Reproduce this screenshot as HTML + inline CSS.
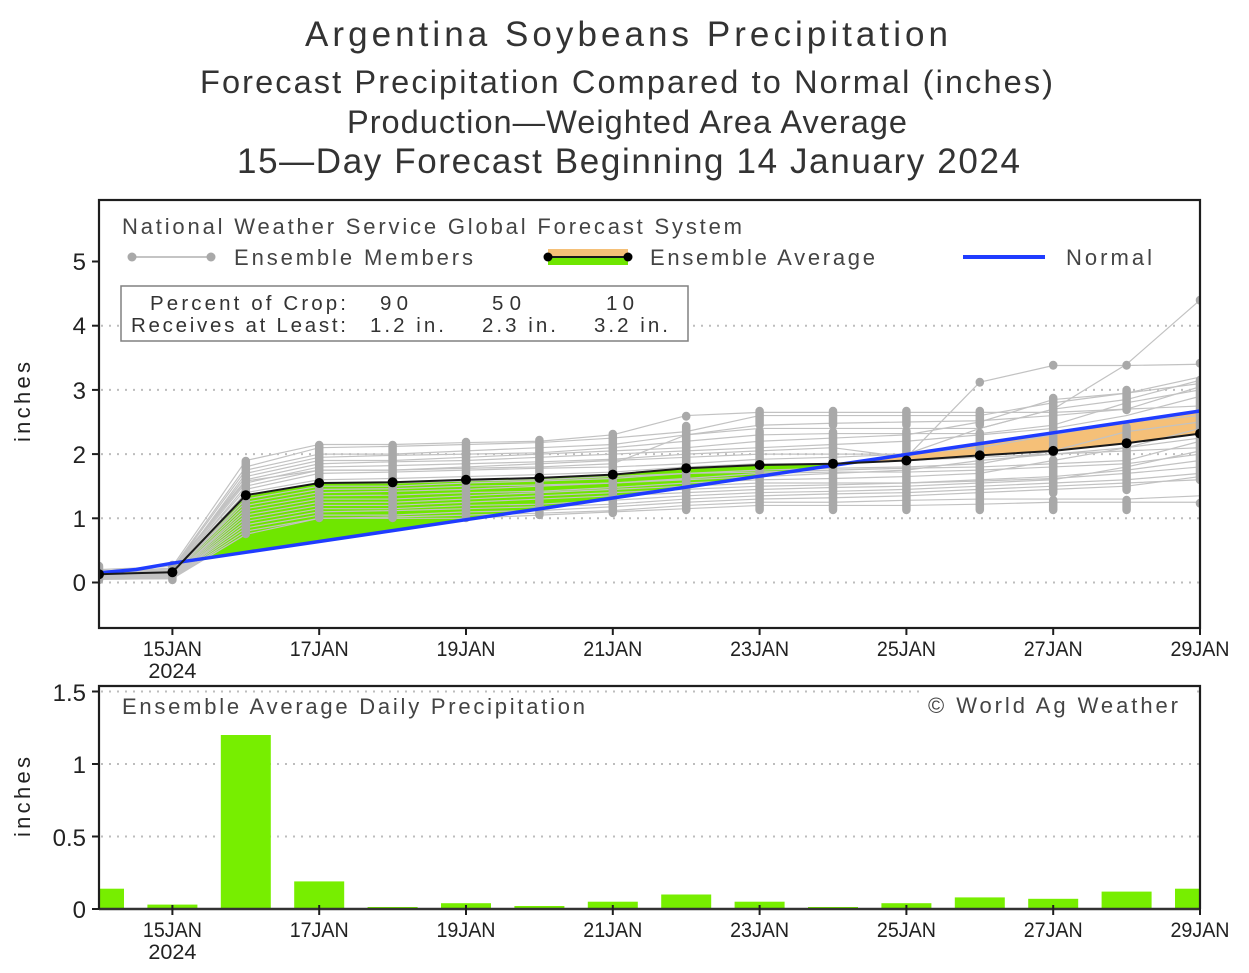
<!DOCTYPE html>
<html><head><meta charset="utf-8">
<style>
html,body{margin:0;padding:0;background:#fff;}
svg{display:block;}
.m polyline{vector-effect:non-scaling-stroke;}
text{font-family:"Liberation Sans",Arial,sans-serif;}
</style></head>
<body>
<svg width="1249" height="973" viewBox="0 0 1249 973" xmlns="http://www.w3.org/2000/svg">
<defs>
<clipPath id="cp"><rect x="99" y="200" width="1101" height="428"/></clipPath>
<clipPath id="cpb"><rect x="99" y="686" width="1101" height="224"/></clipPath>
</defs>

<!-- Titles -->
<g fill="#333" text-anchor="start">
<text x="305" y="46" font-size="35" textLength="643" lengthAdjust="spacing">Argentina Soybeans Precipitation</text>
<text x="200" y="93" font-size="32.5" textLength="853" lengthAdjust="spacing">Forecast Precipitation Compared to Normal (inches)</text>
<text x="347" y="133" font-size="32.5" textLength="560" lengthAdjust="spacing">Production—Weighted Area Average</text>
<text x="237" y="173" font-size="35" textLength="783" lengthAdjust="spacing">15—Day Forecast Beginning 14 January 2024</text>
</g>

<!-- ===== TOP PLOT ===== -->
<g stroke="#bdbdbd" stroke-width="2" stroke-dasharray="2,6">
<line x1="101" y1="582.5" x2="1199" y2="582.5"/>
<line x1="101" y1="518.3" x2="1199" y2="518.3"/>
<line x1="101" y1="454.1" x2="1199" y2="454.1"/>
<line x1="101" y1="389.9" x2="1199" y2="389.9"/>
<line x1="101" y1="325.7" x2="1199" y2="325.7"/>
</g>

<g clip-path="url(#cp)">
<polygon fill="#6fe600" points="182.4,561.7 245.8,495.2 319.2,483.0 392.6,482.3 466,479.8 539.4,477.9 612.8,474.6 686.2,468.2 759.6,465.0 833,463.7 849.2,463.0 833,465.4 759.6,476.2 686.2,487.1 612.8,498.0 539.4,508.9 466,519.7 392.6,530.6 319.2,541.5 245.8,552.3"/>
<polygon fill="#f5c078" points="849.2,463.0 906.4,460.5 979.8,455.4 1053.2,450.9 1126.6,443.2 1200,433.6 1200,411.0 1126.6,421.9 1053.2,432.8 979.8,443.6 906.4,454.5"/>

<g class="m" transform="matrix(73.4,0,0,-64.2,99,582.5)" fill="none" stroke="#c2c2c2" stroke-width="1.2">
<polyline points="0,0.20 1,0.25 2,1.90 3,2.15 4,2.15 5,2.18 6,2.20 7,2.30 8,2.60 9,2.65 10,2.65 11,2.65 12,2.65 13,2.65 14,2.70 15,2.75"/>
<polyline points="0,0.18 1,0.22 2,1.80 3,2.10 4,2.12 5,2.15 6,2.18 7,2.25 8,2.35 9,2.60 10,2.60 11,2.60 12,2.60 13,2.80 14,2.95 15,3.10"/>
<polyline points="0,0.15 1,0.20 2,1.75 3,2.00 4,2.00 5,2.05 6,2.10 7,2.15 8,2.30 9,2.40 10,2.40 11,2.40 12,2.40 13,2.70 14,2.85 15,3.15"/>
<polyline points="0,0.12 1,0.15 2,1.70 3,1.95 4,1.98 5,2.00 6,2.02 7,2.10 8,2.20 9,2.30 10,2.32 11,2.32 12,2.32 13,2.45 14,2.80 15,3.00"/>
<polyline points="0,0.14 1,0.18 2,1.65 3,1.90 4,1.90 5,1.95 6,2.00 7,2.05 8,2.10 9,2.20 10,2.25 11,2.30 12,2.50 13,2.85 14,2.95 15,3.20"/>
<polyline points="0,0.12 1,0.16 2,1.55 3,1.80 4,1.82 5,1.85 6,1.88 7,1.92 8,2.00 9,2.05 10,2.10 11,1.95 12,3.12 13,3.38 14,3.38 15,3.40"/>
<polyline points="0,0.10 1,0.14 2,1.50 3,1.75 4,1.75 5,1.80 6,1.85 7,1.90 8,1.95 9,2.00 10,2.00 11,2.00 12,2.40 13,2.70 14,3.40 15,4.40"/>
<polyline points="0,0.13 1,0.17 2,1.45 3,1.70 4,1.72 5,1.75 6,1.78 7,1.80 8,1.85 9,1.92 10,1.95 11,2.00 12,2.10 13,2.30 14,2.50 15,2.60"/>
<polyline points="0,0.11 1,0.15 2,1.40 3,1.60 4,1.62 5,1.65 6,1.68 7,1.72 8,1.80 9,1.85 10,1.85 11,1.90 12,1.95 13,2.00 14,2.10 15,2.40"/>
<polyline points="0,0.10 1,0.12 2,1.35 3,1.55 4,1.55 5,1.58 6,1.60 7,1.65 8,1.70 9,1.75 10,1.78 11,1.80 12,1.85 13,2.05 14,2.35 15,2.50"/>
<polyline points="0,0.09 1,0.12 2,1.30 3,1.50 4,1.50 5,1.55 6,1.58 7,1.62 8,1.70 9,1.72 10,1.75 11,1.78 12,1.80 13,1.85 14,1.90 15,2.20"/>
<polyline points="0,0.12 1,0.14 2,1.25 3,1.45 4,1.46 5,1.50 6,1.52 7,1.55 8,1.60 9,1.65 10,1.70 11,1.75 12,1.90 13,2.00 14,2.05 15,2.10"/>
<polyline points="0,0.10 1,0.12 2,1.20 3,1.40 4,1.42 5,1.45 6,1.50 7,1.55 8,1.62 9,1.70 10,1.72 11,1.72 12,1.75 13,1.80 14,1.85 15,2.00"/>
<polyline points="0,0.08 1,0.10 2,1.15 3,1.35 4,1.36 5,1.40 6,1.42 7,1.48 8,1.55 9,1.60 10,1.62 11,1.65 12,1.70 13,1.90 14,2.10 15,2.25"/>
<polyline points="0,0.09 1,0.11 2,1.10 3,1.30 4,1.30 5,1.35 6,1.40 7,1.45 8,1.50 9,1.55 10,1.55 11,1.55 12,1.60 13,1.65 14,1.75 15,1.90"/>
<polyline points="0,0.08 1,0.10 2,1.05 3,1.25 4,1.25 5,1.30 6,1.35 7,1.40 8,1.45 9,1.50 10,1.52 11,1.55 12,1.58 13,1.62 14,1.70 15,1.80"/>
<polyline points="0,0.07 1,0.09 2,1.00 3,1.20 4,1.20 5,1.25 6,1.30 7,1.35 8,1.40 9,1.45 10,1.48 11,1.50 12,1.55 13,1.60 14,1.80 15,2.05"/>
<polyline points="0,0.07 1,0.08 2,0.95 3,1.15 4,1.15 5,1.20 6,1.22 7,1.28 8,1.35 9,1.40 10,1.42 11,1.45 12,1.50 13,1.55 14,1.60 15,1.70"/>
<polyline points="0,0.06 1,0.08 2,0.90 3,1.10 4,1.12 5,1.15 6,1.18 7,1.22 8,1.30 9,1.35 10,1.38 11,1.40 12,1.45 13,1.50 14,1.55 15,1.60"/>
<polyline points="0,0.06 1,0.07 2,0.85 3,1.05 4,1.05 5,1.10 6,1.12 7,1.18 8,1.25 9,1.30 10,1.32 11,1.35 12,1.40 13,1.45 14,1.50 15,1.65"/>
<polyline points="0,0.05 1,0.06 2,0.80 3,1.00 4,1.02 5,1.05 6,1.08 7,1.12 8,1.20 9,1.25 10,1.25 11,1.28 12,1.30 13,1.30 14,1.30 15,1.35"/>
<polyline points="0,0.05 1,0.06 2,0.75 3,1.00 4,1.00 5,1.00 6,1.05 7,1.10 8,1.15 9,1.20 10,1.20 11,1.20 12,1.22 13,1.25 14,1.25 15,1.25"/>
<polyline points="0,0.16 1,0.22 2,1.60 3,1.85 4,1.88 5,1.90 6,1.95 7,2.00 8,2.05 9,2.10 10,2.15 11,2.20 12,2.30 13,2.40 14,2.60 15,2.90"/>
<polyline points="0,0.13 1,0.19 2,1.58 3,1.75 4,1.75 5,1.78 6,1.80 7,1.85 8,2.30 9,2.45 10,2.48 11,2.50 12,2.52 13,2.60 14,2.70 15,3.05"/>
</g>

<g stroke="#a9a9a9" stroke-width="8.5" stroke-linecap="round" fill="none">
<line x1="99" y1="566" x2="99" y2="580"/>
<line x1="172.4" y1="565" x2="172.4" y2="580"/>
<line x1="245.8" y1="461" x2="245.8" y2="534"/>
<line x1="319.2" y1="445" x2="319.2" y2="518"/>
<line x1="392.6" y1="445" x2="392.6" y2="518"/>
<line x1="466" y1="442" x2="466" y2="518"/>
<line x1="539.4" y1="440" x2="539.4" y2="515"/>
<line x1="612.8" y1="434" x2="612.8" y2="513"/>
<line x1="686.2" y1="416" x2="686.2" y2="416.5"/>
<line x1="686.2" y1="426" x2="686.2" y2="510"/>
<line x1="759.6" y1="411" x2="759.6" y2="425"/>
<line x1="759.6" y1="431" x2="759.6" y2="510"/>
<line x1="833" y1="411" x2="833" y2="425"/>
<line x1="833" y1="432" x2="833" y2="510"/>
<line x1="906.4" y1="411" x2="906.4" y2="425"/>
<line x1="906.4" y1="431" x2="906.4" y2="510"/>
<line x1="979.8" y1="382" x2="979.8" y2="382.5"/>
<line x1="979.8" y1="411" x2="979.8" y2="425"/>
<line x1="979.8" y1="433" x2="979.8" y2="510"/>
<line x1="1053.2" y1="365" x2="1053.2" y2="365.5"/>
<line x1="1053.2" y1="398" x2="1053.2" y2="453"/>
<line x1="1053.2" y1="460" x2="1053.2" y2="493"/>
<line x1="1053.2" y1="500" x2="1053.2" y2="510"/>
<line x1="1126.6" y1="365" x2="1126.6" y2="365.5"/>
<line x1="1126.6" y1="390" x2="1126.6" y2="410"/>
<line x1="1126.6" y1="427" x2="1126.6" y2="490"/>
<line x1="1126.6" y1="500" x2="1126.6" y2="510"/>
<line x1="1200" y1="300" x2="1200" y2="300.5"/>
<line x1="1200" y1="363" x2="1200" y2="363.5"/>
<line x1="1200" y1="380" x2="1200" y2="480"/>
<line x1="1200" y1="503" x2="1200" y2="503.5"/>
</g>

<polyline fill="none" stroke="#1f3cff" stroke-width="3.5" stroke-linejoin="round" points="99,572.9 136,569.5 172.4,563.2 245.8,552.3 319.2,541.5 392.6,530.6 466,519.7 539.4,508.9 612.8,498.0 686.2,487.1 759.6,476.2 833,465.4 906.4,454.5 979.8,443.6 1053.2,432.8 1126.6,421.9 1200,411.0"/>

<polyline fill="none" stroke="#1a1a1a" stroke-width="2" points="99,574.2 172.4,572.2 245.8,495.2 319.2,483.0 392.6,482.3 466,479.8 539.4,477.9 612.8,474.6 686.2,468.2 759.6,465.0 833,463.7 906.4,460.5 979.8,455.4 1053.2,450.9 1126.6,443.2 1200,433.6"/>
<g fill="#000">
<circle cx="99" cy="574.2" r="5"/><circle cx="172.4" cy="572.2" r="5"/><circle cx="245.8" cy="495.2" r="5"/><circle cx="319.2" cy="483.0" r="5"/>
<circle cx="392.6" cy="482.3" r="5"/><circle cx="466" cy="479.8" r="5"/><circle cx="539.4" cy="477.9" r="5"/><circle cx="612.8" cy="474.6" r="5"/>
<circle cx="686.2" cy="468.2" r="5"/><circle cx="759.6" cy="465.0" r="5"/><circle cx="833" cy="463.7" r="5"/><circle cx="906.4" cy="460.5" r="5"/>
<circle cx="979.8" cy="455.4" r="5"/><circle cx="1053.2" cy="450.9" r="5"/><circle cx="1126.6" cy="443.2" r="5"/><circle cx="1200" cy="433.6" r="5"/>
</g>
</g>

<!-- legend -->
<g fill="#444">
<text x="122" y="234" font-size="22" textLength="620" lengthAdjust="spacing">National Weather Service Global Forecast System</text>
<text x="234" y="265" font-size="22" textLength="239" lengthAdjust="spacing">Ensemble Members</text>
<text x="650" y="265" font-size="22" textLength="225" lengthAdjust="spacing">Ensemble Average</text>
<text x="1066" y="265" font-size="22" textLength="86" lengthAdjust="spacing">Normal</text>
</g>
<line x1="132" y1="257" x2="211" y2="257" stroke="#c4c4c4" stroke-width="2"/>
<circle cx="132" cy="257" r="4.5" fill="#a9a9a9"/><circle cx="211" cy="257" r="4.5" fill="#a9a9a9"/>
<rect x="548" y="249" width="80" height="8" fill="#f5c078"/>
<rect x="548" y="257" width="80" height="8" fill="#6fe600"/>
<line x1="548" y1="257" x2="628" y2="257" stroke="#1a1a1a" stroke-width="2"/>
<circle cx="548" cy="257" r="4.5" fill="#000"/><circle cx="628" cy="257" r="4.5" fill="#000"/>
<line x1="963" y1="257" x2="1045" y2="257" stroke="#1f3cff" stroke-width="4"/>

<rect x="121" y="286" width="567" height="55" fill="#fff" stroke="#808080" stroke-width="1.5"/>
<g fill="#333" font-size="20.5">
<text x="150" y="310" textLength="196" lengthAdjust="spacing">Percent of Crop:</text>
<text x="380" y="310" textLength="28" lengthAdjust="spacing">90</text>
<text x="492" y="310" textLength="29" lengthAdjust="spacing">50</text>
<text x="606" y="310" textLength="28" lengthAdjust="spacing">10</text>
<text x="131" y="332" textLength="215" lengthAdjust="spacing">Receives at Least:</text>
<text x="370" y="332" textLength="74" lengthAdjust="spacing">1.2 in.</text>
<text x="482" y="332" textLength="74" lengthAdjust="spacing">2.3 in.</text>
<text x="594" y="332" textLength="74" lengthAdjust="spacing">3.2 in.</text>
</g>

<rect x="99" y="200" width="1101" height="428" fill="none" stroke="#1e1e1e" stroke-width="2.2"/>
<g stroke="#1e1e1e" stroke-width="2">
<line x1="92" y1="582.5" x2="99" y2="582.5"/><line x1="92" y1="518.3" x2="99" y2="518.3"/>
<line x1="92" y1="454.1" x2="99" y2="454.1"/><line x1="92" y1="389.9" x2="99" y2="389.9"/>
<line x1="92" y1="325.7" x2="99" y2="325.7"/><line x1="92" y1="261.5" x2="99" y2="261.5"/>
<line x1="172.4" y1="628" x2="172.4" y2="635"/><line x1="319.2" y1="628" x2="319.2" y2="635"/>
<line x1="466" y1="628" x2="466" y2="635"/><line x1="612.8" y1="628" x2="612.8" y2="635"/>
<line x1="759.6" y1="628" x2="759.6" y2="635"/><line x1="906.4" y1="628" x2="906.4" y2="635"/>
<line x1="1053.2" y1="628" x2="1053.2" y2="635"/><line x1="1200" y1="628" x2="1200" y2="635"/>
</g>
<g fill="#222" font-size="24" text-anchor="end">
<text x="86" y="591">0</text><text x="86" y="527">1</text><text x="86" y="463">2</text>
<text x="86" y="399">3</text><text x="86" y="334">4</text><text x="86" y="270">5</text>
</g>
<text transform="translate(30,402) rotate(-90)" text-anchor="middle" fill="#222" font-size="22" textLength="80" lengthAdjust="spacing">inches</text>
<g fill="#222" font-size="21" text-anchor="middle">
<text x="172.4" y="656" textLength="59" lengthAdjust="spacingAndGlyphs">15JAN</text>
<text x="172.4" y="678" textLength="48" lengthAdjust="spacingAndGlyphs">2024</text>
<text x="319.2" y="656" textLength="59" lengthAdjust="spacingAndGlyphs">17JAN</text>
<text x="466" y="656" textLength="59" lengthAdjust="spacingAndGlyphs">19JAN</text>
<text x="612.8" y="656" textLength="59" lengthAdjust="spacingAndGlyphs">21JAN</text>
<text x="759.6" y="656" textLength="59" lengthAdjust="spacingAndGlyphs">23JAN</text>
<text x="906.4" y="656" textLength="59" lengthAdjust="spacingAndGlyphs">25JAN</text>
<text x="1053.2" y="656" textLength="59" lengthAdjust="spacingAndGlyphs">27JAN</text>
<text x="1200" y="656" textLength="59" lengthAdjust="spacingAndGlyphs">29JAN</text>
</g>

<!-- ===== BOTTOM PLOT ===== -->
<g stroke="#bdbdbd" stroke-width="2" stroke-dasharray="2,6">
<line x1="101" y1="836.5" x2="1199" y2="836.5"/>
<line x1="101" y1="764" x2="1199" y2="764"/>
<line x1="101" y1="691.5" x2="1199" y2="691.5"/>
</g>
<rect x="920" y="688" width="272" height="32" fill="#fff"/>
<g clip-path="url(#cpb)" fill="#77ee00">
<rect x="74" y="888.7" width="50" height="20.3"/>
<rect x="147.4" y="904.6" width="50" height="4.4"/>
<rect x="220.8" y="735" width="50" height="174"/>
<rect x="294.2" y="881.4" width="50" height="27.6"/>
<rect x="367.6" y="907" width="50" height="2"/>
<rect x="441" y="903.2" width="50" height="5.8"/>
<rect x="514.4" y="906" width="50" height="3"/>
<rect x="587.8" y="901.7" width="50" height="7.3"/>
<rect x="661.2" y="894.5" width="50" height="14.5"/>
<rect x="734.6" y="901.7" width="50" height="7.3"/>
<rect x="808" y="907" width="50" height="2"/>
<rect x="881.4" y="903.2" width="50" height="5.8"/>
<rect x="954.8" y="897.4" width="50" height="11.6"/>
<rect x="1028.2" y="898.8" width="50" height="10.2"/>
<rect x="1101.6" y="891.6" width="50" height="17.4"/>
<rect x="1175" y="888.7" width="50" height="20.3"/>
</g>
<line x1="99" y1="909" x2="1200" y2="909" stroke="#333" stroke-width="2.5"/>
<polyline fill="none" stroke="#1e1e1e" stroke-width="2.2" points="99,909 99,686 1200,686 1200,909"/>
<g stroke="#1e1e1e" stroke-width="2">
<line x1="92" y1="909" x2="99" y2="909"/><line x1="92" y1="836.5" x2="99" y2="836.5"/>
<line x1="92" y1="764" x2="99" y2="764"/><line x1="92" y1="691.5" x2="99" y2="691.5"/>
<line x1="172.4" y1="905" x2="172.4" y2="915"/><line x1="319.2" y1="905" x2="319.2" y2="915"/>
<line x1="466" y1="905" x2="466" y2="915"/><line x1="612.8" y1="905" x2="612.8" y2="915"/>
<line x1="759.6" y1="905" x2="759.6" y2="915"/><line x1="906.4" y1="905" x2="906.4" y2="915"/>
<line x1="1053.2" y1="905" x2="1053.2" y2="915"/><line x1="1200" y1="905" x2="1200" y2="915"/>
</g>
<g fill="#222" font-size="24" text-anchor="end">
<text x="86" y="918">0</text><text x="86" y="846">0.5</text>
<text x="86" y="773">1</text><text x="86" y="701">1.5</text>
</g>
<text transform="translate(30,797) rotate(-90)" text-anchor="middle" fill="#222" font-size="22" textLength="80" lengthAdjust="spacing">inches</text>
<g fill="#444" font-size="22">
<text x="122" y="714" textLength="463" lengthAdjust="spacing">Ensemble Average Daily Precipitation</text>
<text x="928" y="713" textLength="250" lengthAdjust="spacing">© World Ag Weather</text>
</g>
<g fill="#222" font-size="21" text-anchor="middle">
<text x="172.4" y="937" textLength="59" lengthAdjust="spacingAndGlyphs">15JAN</text>
<text x="172.4" y="959" textLength="48" lengthAdjust="spacingAndGlyphs">2024</text>
<text x="319.2" y="937" textLength="59" lengthAdjust="spacingAndGlyphs">17JAN</text>
<text x="466" y="937" textLength="59" lengthAdjust="spacingAndGlyphs">19JAN</text>
<text x="612.8" y="937" textLength="59" lengthAdjust="spacingAndGlyphs">21JAN</text>
<text x="759.6" y="937" textLength="59" lengthAdjust="spacingAndGlyphs">23JAN</text>
<text x="906.4" y="937" textLength="59" lengthAdjust="spacingAndGlyphs">25JAN</text>
<text x="1053.2" y="937" textLength="59" lengthAdjust="spacingAndGlyphs">27JAN</text>
<text x="1200" y="937" textLength="59" lengthAdjust="spacingAndGlyphs">29JAN</text>
</g>
</svg>
</body></html>
